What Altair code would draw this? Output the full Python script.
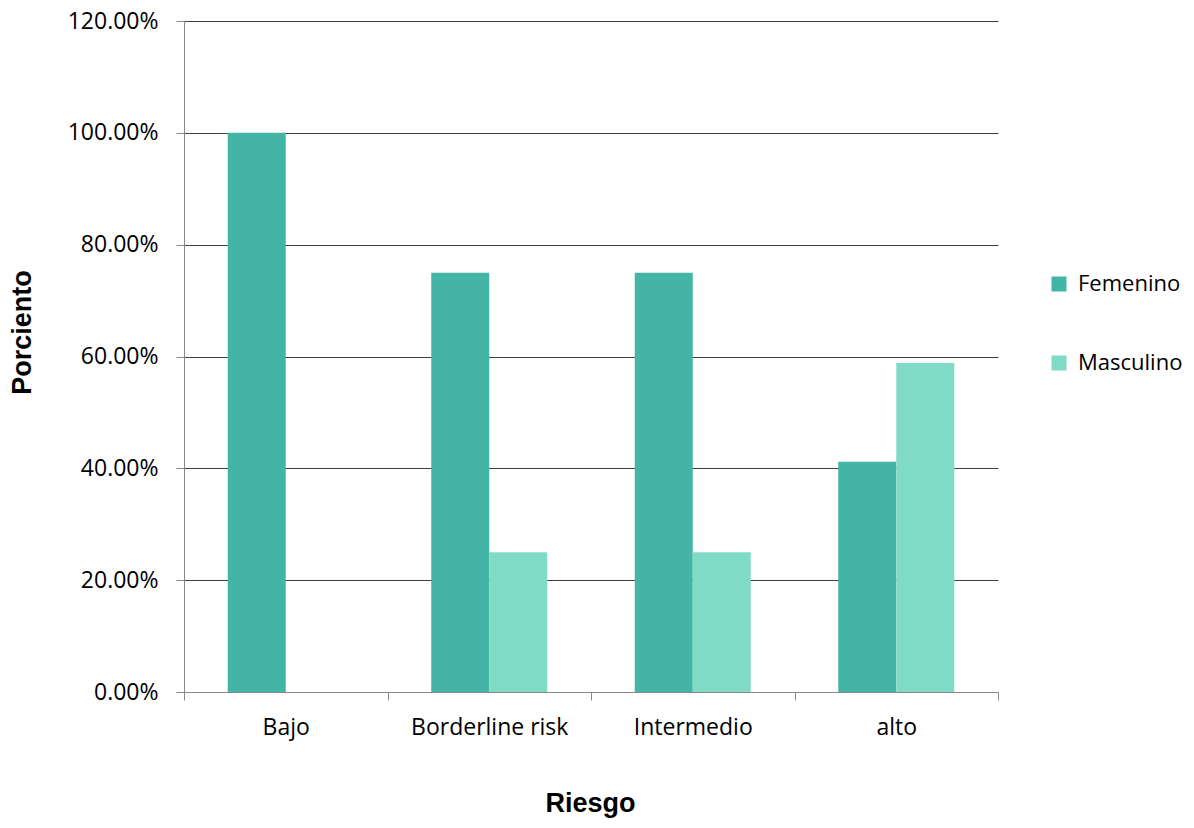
import altair as alt
import pandas as pd

categorias = ["Bajo", "Borderline risk", "Intermedio", "alto"]
femenino = [1.0, 0.75, 0.75, 0.4118]
masculino = [0.0, 0.25, 0.25, 0.5882]
series = ["Femenino", "Masculino"]
colores = ["#43B4A6", "#80DBC6"]
y_ticks = [0, 0.2, 0.4, 0.6, 0.8, 1.0, 1.2]

rows = []
for c, f, m in zip(categorias, femenino, masculino):
    rows.append({"Riesgo": c, "Sexo": "Femenino", "Porciento": f})
    rows.append({"Riesgo": c, "Sexo": "Masculino", "Porciento": m})
df = pd.DataFrame(rows)

W, H = 814, 671

chart = alt.Chart(df).mark_bar().encode(
    x=alt.X("Riesgo:N", sort=categorias,
            scale=alt.Scale(paddingInner=0, paddingOuter=0),
            axis=alt.Axis(title="Riesgo", labelAngle=0, tickBand="extent",
                          grid=False, domainColor="#888888", tickColor="#888888",
                          tickSize=8, labelPadding=16, labelFontSize=23,
                          labelFont="Open Sans", labelColor="#000000",
                          titleFont="Liberation Sans", titleFontSize=27,
                          titleFontWeight="bold", titleColor="#000000",
                          titleX=406, titleY=111, titleBaseline="middle")),
    xOffset=alt.XOffset("Sexo:N", sort=series,
                        scale=alt.Scale(paddingInner=0, paddingOuter=0.754)),
    y=alt.Y("Porciento:Q", scale=alt.Scale(domain=[0, 1.2], nice=False),
            axis=alt.Axis(title="Porciento", format=".2%", values=y_ticks,
                          grid=True, gridColor="#404040", gridWidth=1,
                          domainColor="#888888", tickColor="#888888",
                          tickSize=8, labelPadding=18, labelFontSize=23,
                          labelFont="Open Sans", labelColor="#000000",
                          titleFont="Liberation Sans", titleFontSize=27,
                          titleFontWeight="bold", titleColor="#000000",
                          titleX=-162, titleY=311, titleAngle=-90,
                          titleAlign="center", titleBaseline="middle")),
    color=alt.Color("Sexo:N", sort=series,
                    scale=alt.Scale(domain=series, range=colores),
                    legend=alt.Legend(title=None, orient="none",
                                      legendX=864, legendY=252,
                                      symbolType="square", symbolSize=225,
                                      symbolStrokeWidth=0, labelFontSize=22,
                                      labelFont="Open Sans", labelColor="#000000",
                                      rowPadding=57, labelOffset=8)),
).properties(
    width=W, height=H,
    autosize=alt.AutoSizeParams(type="none"),
    padding={"left": 176, "top": 13, "right": 188, "bottom": 128},
).configure_view(stroke=None)

chart.save("out.html", embed_options={"renderer": "svg", "actions": False})
